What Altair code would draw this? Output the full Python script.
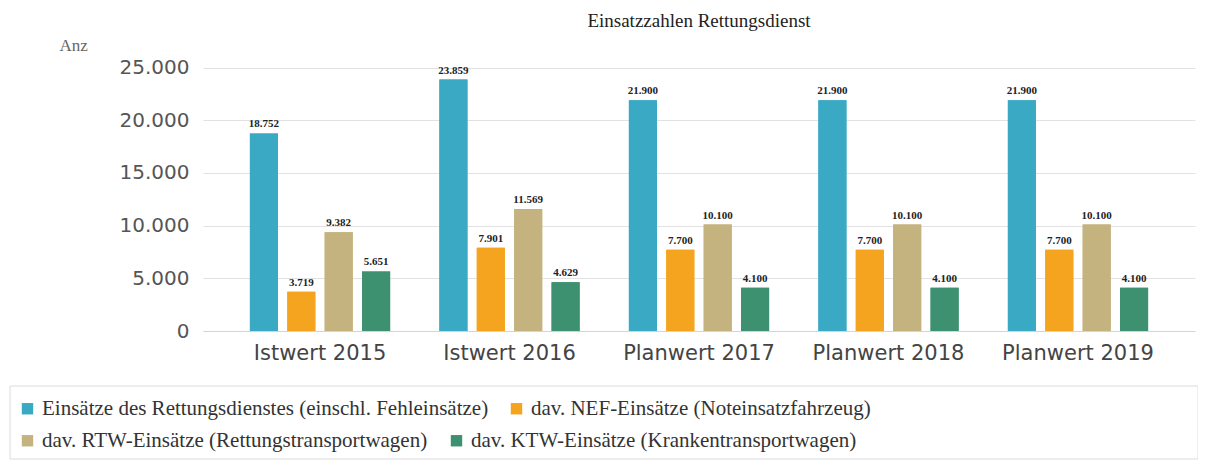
import altair as alt
import pandas as pd

categories = ["Istwert 2015", "Istwert 2016", "Planwert 2017", "Planwert 2018", "Planwert 2019"]
series = [
    "Einsätze des Rettungsdienstes (einschl. Fehleinsätze)",
    "dav. NEF-Einsätze (Noteinsatzfahrzeug)",
    "dav. RTW-Einsätze (Rettungstransportwagen)",
    "dav. KTW-Einsätze (Krankentransportwagen)",
]
einsaetze = [18752, 23859, 21900, 21900, 21900]
nef = [3719, 7901, 7700, 7700, 7700]
rtw = [9382, 11569, 10100, 10100, 10100]
ktw = [5651, 4629, 4100, 4100, 4100]
colors = ["#3AA9C3", "#F4A41E", "#C4B27F", "#3E9170"]

rows = []
for s, vals in zip(series, [einsaetze, nef, rtw, ktw]):
    for c, v in zip(categories, vals):
        rows.append({"Kategorie": c, "Serie": s, "Wert": v,
                     "Label": f"{v:,}".replace(",", ".")})
df = pd.DataFrame(rows)

x_enc = alt.X("Kategorie:N", sort=categories,
              scale=alt.Scale(paddingInner=0.26, paddingOuter=0.2475),
              axis=alt.Axis(title=None, labelAngle=0, labelFont="DejaVu Sans",
                            labelFontSize=21, labelColor="#444", labelPadding=11,
                            ticks=False, domainColor="#d4d4d4"))
xo_enc = alt.XOffset("Serie:N", sort=series,
                     scale=alt.Scale(paddingInner=0.25, paddingOuter=0))
y_enc = alt.Y("Wert:Q", scale=alt.Scale(domain=[0, 25000]),
              axis=alt.Axis(values=[0, 5000, 10000, 15000, 20000, 25000],
                            labelExpr="replace(format(datum.value, ','), ',', '.')",
                            labelFont="DejaVu Sans", labelFontSize=20, labelColor="#555",
                            labelPadding=14, ticks=False, domain=False,
                            gridColor="#e2e2e2",
                            title="Anz", titleAngle=0, titleFont="Liberation Serif",
                            titleFontSize=17, titleFontWeight="normal", titleColor="#666",
                            titleX=-144, titleY=-3, titleAlign="left",
                            titleBaseline="bottom"))


def legend_row(vals, ly, pad):
    return alt.Legend(title=None, orient="none", legendX=-186, legendY=ly,
                      values=vals, direction="horizontal", symbolType="square",
                      symbolSize=130, symbolStrokeWidth=0, symbolOpacity=1,
                      labelFont="Liberation Serif", labelFontSize=21,
                      labelColor="#333", labelLimit=700,
                      columnPadding=pad, padding=0)


color_scale = alt.Scale(domain=series, range=colors)
base = alt.Chart(df)

bars_a = base.mark_bar().encode(
    x=x_enc, xOffset=xo_enc, y=y_enc,
    color=alt.Color("Serie:N", sort=series, scale=color_scale,
                    legend=legend_row(series[2:], 373, 18)),
)
bars_b = base.mark_bar().encode(
    x=x_enc, xOffset=xo_enc, y=y_enc,
    color=alt.Color("Serie:N", sort=series, scale=color_scale,
                    legend=legend_row(series[:2], 341, 17)),
)

labels = base.mark_text(dy=-9, font="Liberation Serif", fontSize=11,
                        fontWeight="bold", color="#222").encode(
    x=x_enc,
    xOffset=xo_enc,
    y="Wert:Q",
    text="Label:N",
)

frame = alt.Chart(pd.DataFrame({"k": [0]})).mark_rect(
    fill=None, stroke="#dcdcdc", strokeWidth=1).encode(
    x=alt.value(-193), x2=alt.value(995), y=alt.value(329), y2=alt.value(402))

chart = alt.layer(frame, bars_a, bars_b, labels).resolve_scale(
    color="independent"
).properties(
    width=992, height=274,
    title=alt.TitleParams("Einsatzzahlen Rettungsdienst", font="Liberation Serif",
                          fontSize=19, fontWeight="normal", color="#222",
                          anchor="middle", offset=5),
    autosize=alt.AutoSizeParams(type="none"),
    padding={"left": 195, "top": 49, "right": 3, "bottom": 129},
).configure(background="white").configure_view(stroke=None)

chart.save("out.html", embed_options={"renderer": "svg", "actions": False})
